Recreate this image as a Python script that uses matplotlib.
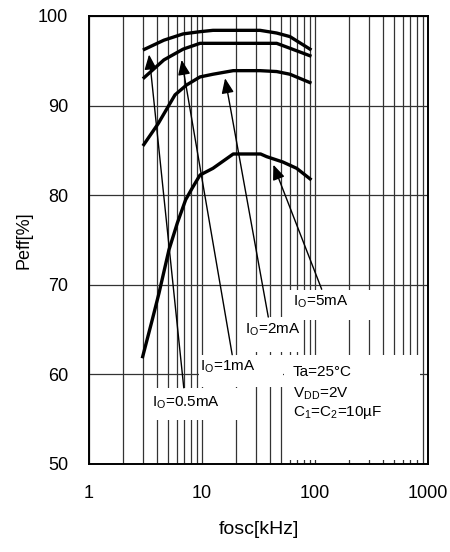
import matplotlib
matplotlib.use("Agg")
import matplotlib.pyplot as plt
from matplotlib.patches import Rectangle
from matplotlib.ticker import LogLocator, FixedLocator, NullFormatter, FixedFormatter

plt.rcParams['font.family'] = ['Liberation Sans', 'DejaVu Sans']
plt.rcParams['mathtext.fontset'] = 'custom'
plt.rcParams['mathtext.rm'] = 'Liberation Sans'

# ---- data ----
f_05 = [3, 4.6, 6.8, 9.6, 12.5, 32.6, 45.8, 60, 93]
eff_05 = [96.2, 97.3, 98.0, 98.25, 98.4, 98.4, 98.1, 97.7, 96.2]

f_1 = [3, 4.6, 6.8, 9.6, 12.5, 32.6, 45.8, 60, 93]
eff_1 = [93.0, 95.1, 96.3, 96.95, 96.95, 96.95, 96.95, 96.4, 95.5]

f_2 = [3, 4.1, 5.77, 7.3, 9.6, 12.5, 18.9, 32.6, 45.8, 60, 93]
eff_2 = [85.5, 88.0, 91.2, 92.3, 93.2, 93.5, 93.9, 93.9, 93.8, 93.5, 92.5]

f_5 = [2.96, 3.63, 4.16, 5.1, 6.05, 7.17, 8.2, 9.6, 12.5, 18.9, 33, 37.4, 52, 68.8, 93]
eff_5 = [61.8, 66.1, 69.05, 73.9, 76.9, 79.5, 80.8, 82.25, 83.0, 84.6, 84.6, 84.3, 83.7, 83.0, 81.7]

x_ticks = [1, 10, 100, 1000]
x_ticklabels = ['1', '10', '100', '1000']
y_ticks = [50, 60, 70, 80, 90, 100]

fig = plt.figure(figsize=(4.5, 5.52), dpi=100)
ax = fig.add_axes([89/450, 1-464/552, (428-89)/450, (464-16)/552])
ax.set_xscale('log')
ax.set_xlim(1, 1000)
ax.set_ylim(50, 100)

ax.xaxis.set_major_locator(FixedLocator(x_ticks))
ax.xaxis.set_major_formatter(FixedFormatter(x_ticklabels))
ax.xaxis.set_minor_locator(LogLocator(base=10, subs=range(2, 10)))
ax.xaxis.set_minor_formatter(NullFormatter())
ax.yaxis.set_major_locator(FixedLocator(y_ticks))

ax.set_axisbelow(True)
ax.grid(True, which='major', axis='both', color='#333333', lw=0.9)
ax.grid(True, which='minor', axis='x', color='#333333', lw=0.9)
ax.tick_params(which='both', length=0)
ax.tick_params(axis='x', pad=15, labelsize=13)
ax.tick_params(axis='y', pad=15, labelsize=13)
for s in ax.spines.values():
    s.set_linewidth(1.4)
    s.set_color('black')

# white label boxes
boxes = [
    (53.2, 849, 50.45, 62.17),
    (54.3, 346.6, 66.07, 69.42),
    (22.1, 78.3, 62.5, 66.41),
    (9.4, 52.1, 58.6, 62.17),
    (3.33, 24.0, 54.9, 58.48),
]
for x0, x1, y0, y1 in boxes:
    ax.add_patch(Rectangle((x0, y0), x1 - x0, y1 - y0, facecolor='white',
                           edgecolor='none', zorder=1.5))

# curves
for fx, ey in [(f_05, eff_05), (f_1, eff_1), (f_2, eff_2), (f_5, eff_5)]:
    ax.plot(fx, ey, color='black', lw=2.4, zorder=3, solid_capstyle='butt')

# arrows
arrows = [
    ((6.9, 58.5), (3.4, 95.7)),
    ((18.5, 62.2), (6.6, 95.1)),
    ((38.6, 66.4), (16.0, 93.05)),
    ((114.6, 69.5), (42.8, 83.4)),
]
for tail, tip in arrows:
    ax.annotate('', xy=tip, xytext=tail,
                arrowprops=dict(arrowstyle='-|>,head_length=0.9,head_width=0.37',
                                mutation_scale=10, lw=1.0, color='black',
                                shrinkA=0, shrinkB=0),
                zorder=2)

fs = 11
ax.text(63.9, 68.1, r'I$_\mathregular{O}$=5mA', fontsize=fs, va='center', zorder=4)
ax.text(24.0, 64.96, r'I$_\mathregular{O}$=2mA', fontsize=fs, va='center', zorder=4)
ax.text(9.6, 60.9, r'I$_\mathregular{O}$=1mA', fontsize=fs, va='center', zorder=4)
ax.text(3.6, 56.9, r'I$_\mathregular{O}$=0.5mA', fontsize=fs, va='center', zorder=4)
ax.text(63.9, 60.27, 'Ta=25°C', fontsize=fs, va='center', zorder=4)
ax.text(63.9, 57.9, r'V$_\mathregular{DD}$=2V', fontsize=fs, va='center', zorder=4)
ax.text(63.9, 55.7, r'C$_\mathregular{1}$=C$_\mathregular{2}$=10µF', fontsize=fs, va='center', zorder=4)

ax.set_ylabel('Peff[%]', fontsize=13, labelpad=4)
ax.set_xlabel('fosc[kHz]', fontsize=14, labelpad=14)

fig.savefig('out.png', dpi=100)
